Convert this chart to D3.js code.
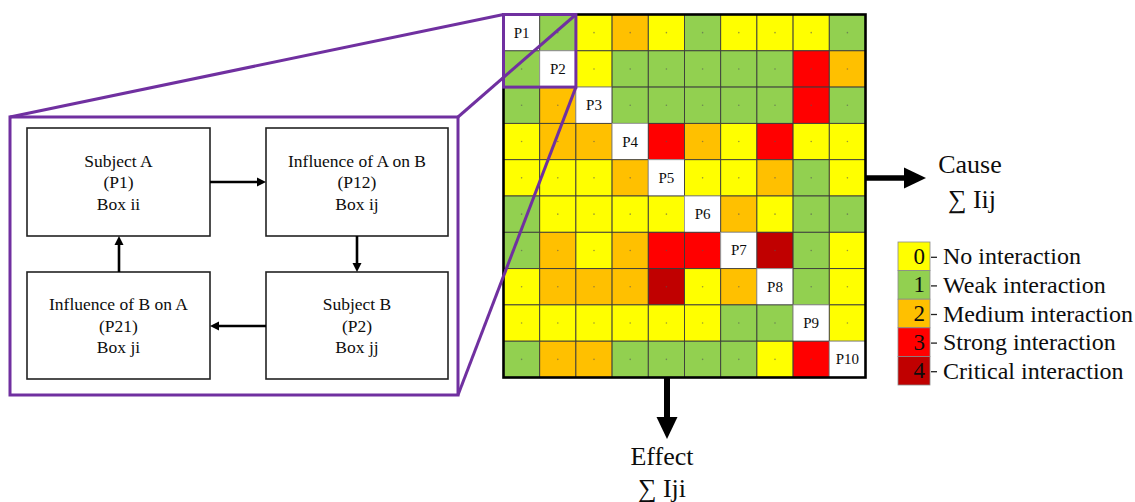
<!DOCTYPE html>
<html><head><meta charset="utf-8">
<script src="https://cdn.jsdelivr.net/npm/d3@7"></script>
<style>body{margin:0;background:#fff}svg{display:block}</style>
</head><body>
<svg id="c" width="1135" height="502" font-family="'Liberation Serif', 'Times New Roman', Times, 'DejaVu Serif', serif"></svg>
<script>
// ---- data ----
const params = ["P1","P2","P3","P4","P5","P6","P7","P8","P9","P10"];
// interaction level: 0 none,1 weak,2 medium,3 strong,4 critical; null = diagonal
const row1  = [null,1,0,2,0,1,0,0,0,1];
const row2  = [1,null,0,1,1,1,1,1,3,2];
const row3  = [1,2,null,1,1,1,1,1,3,1];
const row4  = [0,2,2,null,3,2,0,3,0,0];
const row5  = [0,0,0,2,null,0,0,2,1,0];
const row6  = [1,0,0,0,0,null,2,0,1,1];
const row7  = [1,2,0,2,3,3,null,4,1,0];
const row8  = [0,2,2,2,4,0,2,null,1,0];
const row9  = [0,0,0,0,0,0,1,1,null,0];
const row10 = [1,2,2,1,1,1,1,0,3,null];
const matrix = [row1,row2,row3,row4,row5,row6,row7,row8,row9,row10];
const levels = [0,1,2,3,4];
const levelLabels = ["No interaction","Weak interaction","Medium interaction","Strong interaction","Critical interaction"];
const levelColors = ["#FFFF00","#92D050","#FFC000","#FF0000","#C00000"];
const boxTexts = [
  ["Subject A","(P1)","Box ii"],
  ["Influence of A on B","(P12)","Box ij"],
  ["Influence of B on A","(P21)","Box ji"],
  ["Subject B","(P2)","Box jj"]
];

const svg = d3.select("#c");
const purple = "#7030A0";
const ink = "#0d0d0d";
const color = d3.scaleOrdinal().domain(levels).range(levelColors);

// ---- matrix ----
const x = d3.scaleBand().domain(d3.range(10)).range([503.5, 865.5]);
const y = d3.scaleBand().domain(d3.range(10)).range([14.5, 377.5]);
const cells = [];
matrix.forEach((r,i)=>r.forEach((v,j)=>cells.push({i,j,v})));
const gm = svg.append("g");
gm.selectAll("rect.cell").data(cells).join("rect")
  .attr("x",d=>x(d.j)).attr("y",d=>y(d.i))
  .attr("width",x.bandwidth()).attr("height",y.bandwidth())
  .attr("fill",d=>d.v==null?"#fff":color(d.v))
  .attr("stroke",d=>d.v==null?"#9a9a9a":"#3b3b3b").attr("stroke-width",0.9);
gm.selectAll("circle").data(cells.filter(d=>d.v!=null)).join("circle")
  .attr("cx",d=>x(d.j)+x.bandwidth()/2).attr("cy",d=>y(d.i)+y.bandwidth()/2)
  .attr("r",0.8).attr("fill","#555").attr("opacity",0.6);
gm.selectAll("text").data(cells.filter(d=>d.v==null)).join("text")
  .attr("x",d=>x(d.j)+x.bandwidth()/2).attr("y",d=>y(d.i)+y.bandwidth()/2)
  .attr("text-anchor","middle").attr("dominant-baseline","central")
  .attr("font-size",15).attr("fill",ink).text(d=>params[d.i]);
gm.append("rect").attr("x",503.5).attr("y",14.5).attr("width",362).attr("height",363)
  .attr("fill","none").attr("stroke","#000").attr("stroke-width",2.6);

// ---- cause / effect arrows ----
const ay = 178;
svg.append("line").attr("x1",866).attr("x2",906).attr("y1",ay).attr("y2",ay).attr("stroke","#000").attr("stroke-width",5.5);
svg.append("path").attr("d",`M904,${ay-10.5}L926,${ay}L904,${ay+10.5}Z`).attr("fill","#000");
svg.append("text").attr("x",970).attr("y",173).attr("text-anchor","middle").attr("font-size",26).attr("fill",ink).text("Cause");
svg.append("text").attr("x",972).attr("y",208).attr("text-anchor","middle").attr("font-size",26).attr("fill",ink).text("∑ Iij");
const ax = 667;
svg.append("line").attr("x1",ax).attr("x2",ax).attr("y1",378).attr("y2",419).attr("stroke","#000").attr("stroke-width",6);
svg.append("path").attr("d",`M${ax-10.5},417L${ax},439L${ax+10.5},417Z`).attr("fill","#000");
svg.append("text").attr("x",662).attr("y",465).attr("text-anchor","middle").attr("font-size",26).attr("fill",ink).text("Effect");
svg.append("text").attr("x",662).attr("y",497).attr("text-anchor","middle").attr("font-size",26).attr("fill",ink).text("∑ Iji");

// ---- legend ----
const ly = d3.scaleBand().domain(levels).range([242,385]);
const lg = svg.append("g");
lg.selectAll("rect").data(levels).join("rect")
  .attr("x",898).attr("y",d=>ly(d)).attr("width",32).attr("height",ly.bandwidth())
  .attr("fill",d=>color(d)).attr("stroke","#8a8a8a").attr("stroke-width",0.8);
lg.selectAll("text.n").data(levels).join("text").attr("class","n")
  .attr("x",925).attr("y",d=>ly(d)+ly.bandwidth()/2).attr("dominant-baseline","central")
  .attr("text-anchor","end").attr("font-size",23).attr("fill",ink).text(d=>d);
lg.selectAll("line").data(levels).join("line")
  .attr("x1",931).attr("x2",937).attr("y1",d=>ly(d)+ly.bandwidth()/2+1).attr("y2",d=>ly(d)+ly.bandwidth()/2+1)
  .attr("stroke","#222").attr("stroke-width",1.3);
lg.selectAll("text.l").data(levels).join("text").attr("class","l")
  .attr("x",943).attr("y",d=>ly(d)+ly.bandwidth()/2).attr("dominant-baseline","central")
  .attr("font-size",24).attr("fill",ink).text(d=>levelLabels[d]);

// ---- zoom square and lines ----
const sx0 = x(0), sy0 = y(0), sx1 = x(1)+x.bandwidth(), sy1 = y(1)+y.bandwidth();
const pbox = {x0:10,y0:117,x1:458,y1:395};
const pl = svg.append("g").attr("stroke",purple).attr("stroke-width",3).attr("fill","none");
pl.append("line").attr("x1",pbox.x0).attr("y1",pbox.y0).attr("x2",sx0).attr("y2",sy0);
pl.append("line").attr("x1",pbox.x1).attr("y1",pbox.y0).attr("x2",sx1).attr("y2",sy0);
pl.append("line").attr("x1",pbox.x1).attr("y1",pbox.y1).attr("x2",sx1).attr("y2",sy1);
pl.append("rect").attr("x",sx0).attr("y",sy0).attr("width",sx1-sx0).attr("height",sy1-sy0);
pl.append("rect").attr("x",pbox.x0).attr("y",pbox.y0).attr("width",pbox.x1-pbox.x0).attr("height",pbox.y1-pbox.y0);

// ---- left diagram ----
const boxes = [
  {x0:27,y0:128,x1:210,y1:236},
  {x0:266,y0:128,x1:448,y1:236},
  {x0:27,y0:272,x1:210,y1:379},
  {x0:266,y0:272,x1:448,y1:379}
];
const gd = svg.append("g");
gd.selectAll("rect").data(boxes).join("rect")
  .attr("x",d=>d.x0).attr("y",d=>d.y0).attr("width",d=>d.x1-d.x0).attr("height",d=>d.y1-d.y0)
  .attr("fill","#fff").attr("stroke","#222").attr("stroke-width",1.6);
boxes.forEach((b,k)=>{
  const cx=(b.x0+b.x1)/2, cy=(b.y0+b.y1)/2;
  boxTexts[k].forEach((t,m)=>{
    gd.append("text").attr("x",cx).attr("y",cy+(m-1)*21.5).attr("dominant-baseline","central")
      .attr("text-anchor","middle").attr("font-size",17.5).attr("fill",ink).text(t);
  });
});
function arrow(x1,y1,x2,y2){
  const ang=Math.atan2(y2-y1,x2-x1), L=9, W=4.5;
  const bx=x2-L*Math.cos(ang), by=y2-L*Math.sin(ang);
  gd.append("line").attr("x1",x1).attr("y1",y1).attr("x2",bx).attr("y2",by).attr("stroke","#000").attr("stroke-width",2.6);
  gd.append("path").attr("d",`M${x2},${y2}L${bx-W*Math.sin(ang)},${by+W*Math.cos(ang)}L${bx+W*Math.sin(ang)},${by-W*Math.cos(ang)}Z`).attr("fill","#000");
}
arrow(210,182,266,182);
arrow(357,236,357,272);
arrow(266,326,210,326);
arrow(119,272,119,236);
</script>
</body></html>
